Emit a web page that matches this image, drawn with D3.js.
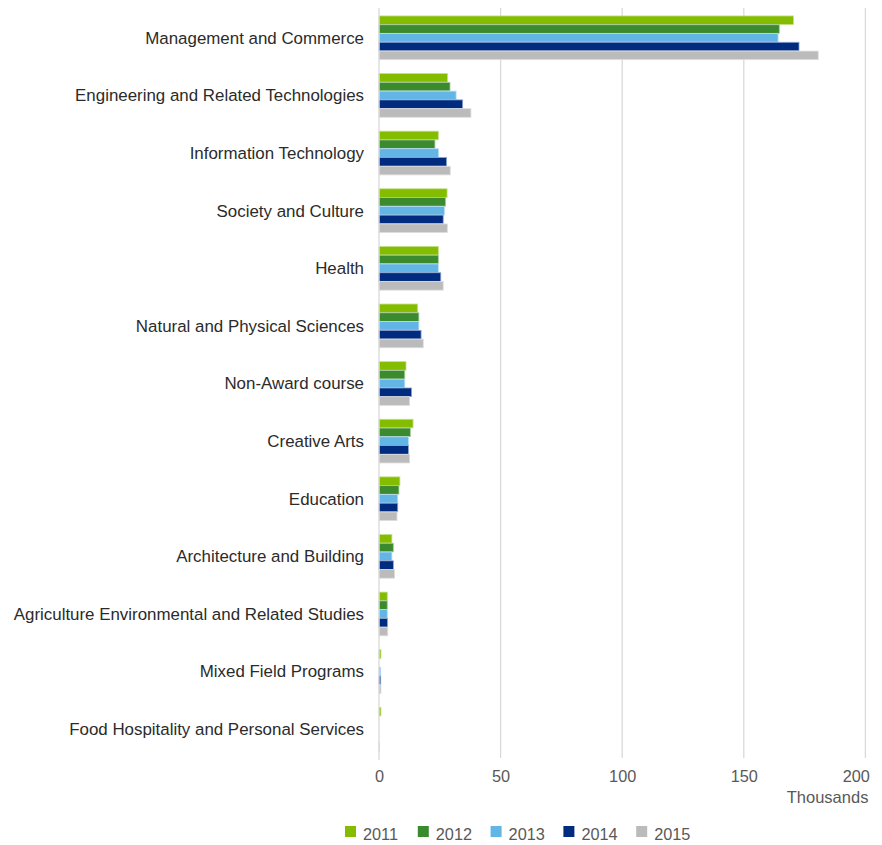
<!DOCTYPE html>
<html>
<head>
<meta charset="utf-8">
<script src="https://cdn.jsdelivr.net/npm/d3@7"></script>
<style>
  body { margin: 0; background: #fff; }
  svg { display: block; font-family: "Liberation Sans", Arial, sans-serif; }
</style>
</head>
<body>
<svg id="chart" width="882" height="845"></svg>
<script>
const categories = [
  "Management and Commerce",
  "Engineering and Related Technologies",
  "Information Technology",
  "Society and Culture",
  "Health",
  "Natural and Physical Sciences",
  "Non-Award course",
  "Creative Arts",
  "Education",
  "Architecture and Building",
  "Agriculture Environmental and Related Studies",
  "Mixed Field Programs",
  "Food Hospitality and Personal Services"
];
const years = ["2011", "2012", "2013", "2014", "2015"];
const colors = ["#84bc00", "#3c8a2e", "#62b5e5", "#002b7f", "#bbbbbb"];
const strokeColors = ["#c4e08a", "#a9cba3", "#b9ddf2", "#8da4cf", "#dedede"];
// values in thousands, one array per year, ordered as categories
const v2011 = [170.4, 28.2, 24.4, 28.0, 24.4, 15.9, 11.1, 14.0, 8.6, 5.3, 3.4, 0.8, 0.8];
const v2012 = [164.6, 29.2, 23.0, 27.4, 24.4, 16.4, 10.6, 12.9, 8.2, 5.9, 3.4, 0.0, 0.0];
const v2013 = [164.1, 31.7, 24.5, 26.9, 24.4, 16.4, 10.6, 12.1, 7.7, 5.3, 3.4, 0.7, 0.0];
const v2014 = [172.7, 34.4, 27.8, 26.4, 25.4, 17.3, 13.4, 12.1, 7.7, 5.9, 3.5, 0.7, 0.0];
const v2015 = [180.6, 37.8, 29.3, 28.1, 26.4, 18.2, 12.6, 12.6, 7.4, 6.4, 3.6, 0.8, 0.2];
const seriesValues = [v2011, v2012, v2013, v2014, v2015];
const xTicks = [0, 50, 100, 150, 200];
const axisTitle = "Thousands";

const svg = d3.select("#chart");
const plotLeft = 379, plotRight = 865.4, plotTop = 9, plotBottom = 758;

const x = d3.scaleLinear().domain([0, 200]).range([plotLeft, plotRight]);
const y = d3.scaleBand().domain(categories).range([plotTop, plotBottom]).paddingInner(0.235).paddingOuter(0.1175);
const yInner = d3.scaleBand().domain(years).range([0, y.bandwidth()]).padding(0.02);

// gridlines
svg.append("g").selectAll("line").data(xTicks.slice(1)).join("line")
  .attr("x1", d => x(d)).attr("x2", d => x(d))
  .attr("y1", plotTop - 1).attr("y2", plotBottom)
  .attr("stroke", "#d9d9d9").attr("stroke-width", 1.3);

// bars
const groups = svg.append("g").selectAll("g").data(categories).join("g")
  .attr("transform", d => `translate(0,${y(d)})`);
groups.selectAll("rect").data((c, i) => years.map((yr, j) => ({yr, j, v: seriesValues[j][i]})))
  .join("rect")
  .attr("x", x(0))
  .attr("y", d => yInner(d.yr))
  .attr("width", d => Math.max(0, x(d.v) - x(0)))
  .attr("height", yInner.bandwidth())
  .attr("fill", d => colors[d.j])
  .attr("stroke", d => strokeColors[d.j])
  .attr("stroke-width", 0.8);

// vertical axis line at 0
svg.append("line")
  .attr("x1", x(0)).attr("x2", x(0)).attr("y1", plotTop - 1).attr("y2", plotBottom + 2)
  .attr("stroke", "#d9d9d9").attr("stroke-width", 1.3);

// category labels
svg.append("g").selectAll("text").data(categories).join("text")
  .attr("x", plotLeft - 15)
  .attr("y", d => y(d) + y.bandwidth() / 2)
  .attr("dy", "0.35em")
  .attr("text-anchor", "end")
  .attr("font-size", 16.9)
  .attr("fill", "#2b2b2b")
  .text(d => d);

// x axis
const xAxis = d3.axisBottom(x).tickValues(xTicks).tickSize(0).tickPadding(0).tickFormat(d3.format("d"));
const gx = svg.append("g").attr("transform", `translate(0,${plotBottom + 12})`).call(xAxis);
gx.select(".domain").remove();
gx.selectAll("text").attr("font-size", 16.3).attr("fill", "#595959")
  .attr("font-family", "'Liberation Sans', Arial, sans-serif").attr("dy", "0.71em");
gx.selectAll(".tick").filter(d => d === 200).select("text")
  .attr("text-anchor", "end").attr("x", 4);

svg.append("text")
  .attr("x", plotRight + 3).attr("y", plotBottom + 45)
  .attr("text-anchor", "end").attr("font-size", 16.5).attr("fill", "#595959")
  .text(axisTitle);

// legend
const legend = svg.append("g").attr("transform", "translate(345,826)");
const item = legend.selectAll("g").data(years).join("g")
  .attr("transform", (d, i) => `translate(${i * 72.8},0)`);
item.append("rect").attr("width", 11).attr("height", 11)
  .attr("fill", (d, i) => colors[i]);
item.append("text").attr("x", 18).attr("y", 14)
  .attr("font-size", 16.3).attr("fill", "#595959").text(d => d);
</script>
</body>
</html>
